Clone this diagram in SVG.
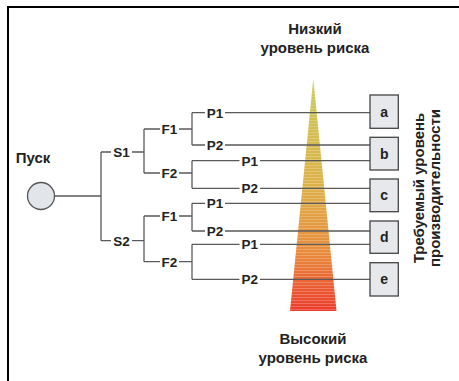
<svg xmlns="http://www.w3.org/2000/svg" width="459" height="381" viewBox="0 0 459 381">
<defs>
<linearGradient id="risk" x1="0" y1="79" x2="0" y2="311" gradientUnits="userSpaceOnUse">
<stop offset="0" stop-color="#c8ca5a"/>
<stop offset="0.45" stop-color="#ddb24a"/>
<stop offset="0.75" stop-color="#e98b3c"/>
<stop offset="1" stop-color="#ea3c2c"/>
</linearGradient>
<pattern id="stripes" width="4" height="3" patternUnits="userSpaceOnUse">
<rect width="4" height="1" fill="#ffffff" opacity="0.22"/>
</pattern>
</defs>
<style>
.ln{stroke:#5a5a5a;stroke-width:1.3;fill:none}
.lbl{font-family:"Liberation Sans",Arial,sans-serif;font-weight:bold;font-size:13.5px;fill:#222;text-anchor:middle}
.big{font-family:"Liberation Sans",Arial,sans-serif;font-weight:bold;font-size:15px;fill:#222;text-anchor:middle}
.box{fill:#e6e8ec;stroke:#444;stroke-width:1.3}
.boxt{font-family:"Liberation Sans",Arial,sans-serif;font-weight:bold;font-size:14px;fill:#222;text-anchor:middle}
</style>
<rect width="459" height="381" fill="#fff"/>
<path d="M8,381 V7 H459" stroke="#000" stroke-width="2" fill="none"/>

<g id="risk-triangle">
<polygon points="313.3,79 290,311 336.5,311" fill="url(#risk)"/>
<polygon points="313.3,79 290,311 336.5,311" fill="url(#stripes)"/>
</g>

<g id="connectors">
<path class="ln" d="M54.5,196 H101 M101,152 V240.7 M101,152 H111 M132,152 H144 M101,240.7 H111 M132,240.7 H144"/>
<path class="ln" d="M144,129 V173 M144,129 H160 M179,129 H192 M144,173 H160 M179,173 H192"/>
<path class="ln" d="M144,216 V261.7 M144,216 H160 M179,216 H192 M144,261.7 H160 M179,261.7 H192"/>
<path class="ln" d="M192,112.7 V145 M192,112.7 H205 M225,112.7 H370 M192,145 H205 M225,145 H370"/>
<path class="ln" d="M192,160.7 V188.3 M192,160.7 H239.5 M260,160.7 H370 M192,188.3 H239.5 M260,188.3 H370"/>
<path class="ln" d="M192,203.3 V231 M192,203.3 H205 M225,203.3 H370 M192,231 H205 M225,231 H370"/>
<path class="ln" d="M192,244.3 V279.3 M192,244.3 H239.5 M260,244.3 H370 M192,279.3 H239.5 M260,279.3 H370"/>
</g>

<g id="start">
<circle cx="41" cy="196" r="13.5" fill="#e2e5ea" stroke="#555" stroke-width="1.3"/>
<text class="big" x="33" y="163" style="text-anchor:middle">Пуск</text>
</g>

<g id="S1"><text class="lbl" x="121.5" y="156.8">S1</text></g>
<g id="S2"><text class="lbl" x="121.5" y="245.5">S2</text></g>
<g id="S1-F1"><text class="lbl" x="169.5" y="133.8">F1</text></g>
<g id="S1-F2"><text class="lbl" x="169.5" y="177.8">F2</text></g>
<g id="S2-F1"><text class="lbl" x="169.5" y="220.8">F1</text></g>
<g id="S2-F2"><text class="lbl" x="169.5" y="266.5">F2</text></g>
<g id="S1-F1-P1"><text class="lbl" x="215" y="117.5">P1</text></g>
<g id="S1-F1-P2"><text class="lbl" x="215" y="149.8">P2</text></g>
<g id="S1-F2-P1"><text class="lbl" x="249.7" y="165.5">P1</text></g>
<g id="S1-F2-P2"><text class="lbl" x="249.7" y="193.1">P2</text></g>
<g id="S2-F1-P1"><text class="lbl" x="215" y="208.1">P1</text></g>
<g id="S2-F1-P2"><text class="lbl" x="215" y="235.8">P2</text></g>
<g id="S2-F2-P1"><text class="lbl" x="249.7" y="249.1">P1</text></g>
<g id="S2-F2-P2"><text class="lbl" x="249.7" y="284.1">P2</text></g>

<g id="box-a"><rect class="box" x="370" y="95" width="28.3" height="33.3"/><text class="boxt" x="384.2" y="116.5">a</text></g>
<g id="box-b"><rect class="box" x="370" y="137.3" width="28.3" height="32.7"/><text class="boxt" x="384.2" y="158.5">b</text></g>
<g id="box-c"><rect class="box" x="370" y="179" width="28.3" height="32.7"/><text class="boxt" x="384.2" y="200">c</text></g>
<g id="box-d"><rect class="box" x="370" y="221" width="28.3" height="32.3"/><text class="boxt" x="384.2" y="242">d</text></g>
<g id="box-e"><rect class="box" x="370" y="262.7" width="28.3" height="33.3"/><text class="boxt" x="384.2" y="284">e</text></g>

<g id="labels">
<text class="big" x="315" y="34">Низкий</text>
<text class="big" x="315" y="53">уровень риска</text>
<text class="big" x="313" y="344">Высокий</text>
<text class="big" x="313" y="363">уровень риска</text>
<text class="big" transform="translate(424,188) rotate(-90)">Требуемый уровень</text>
<text class="big" transform="translate(440,188) rotate(-90)">производительности</text>
</g>
</svg>
